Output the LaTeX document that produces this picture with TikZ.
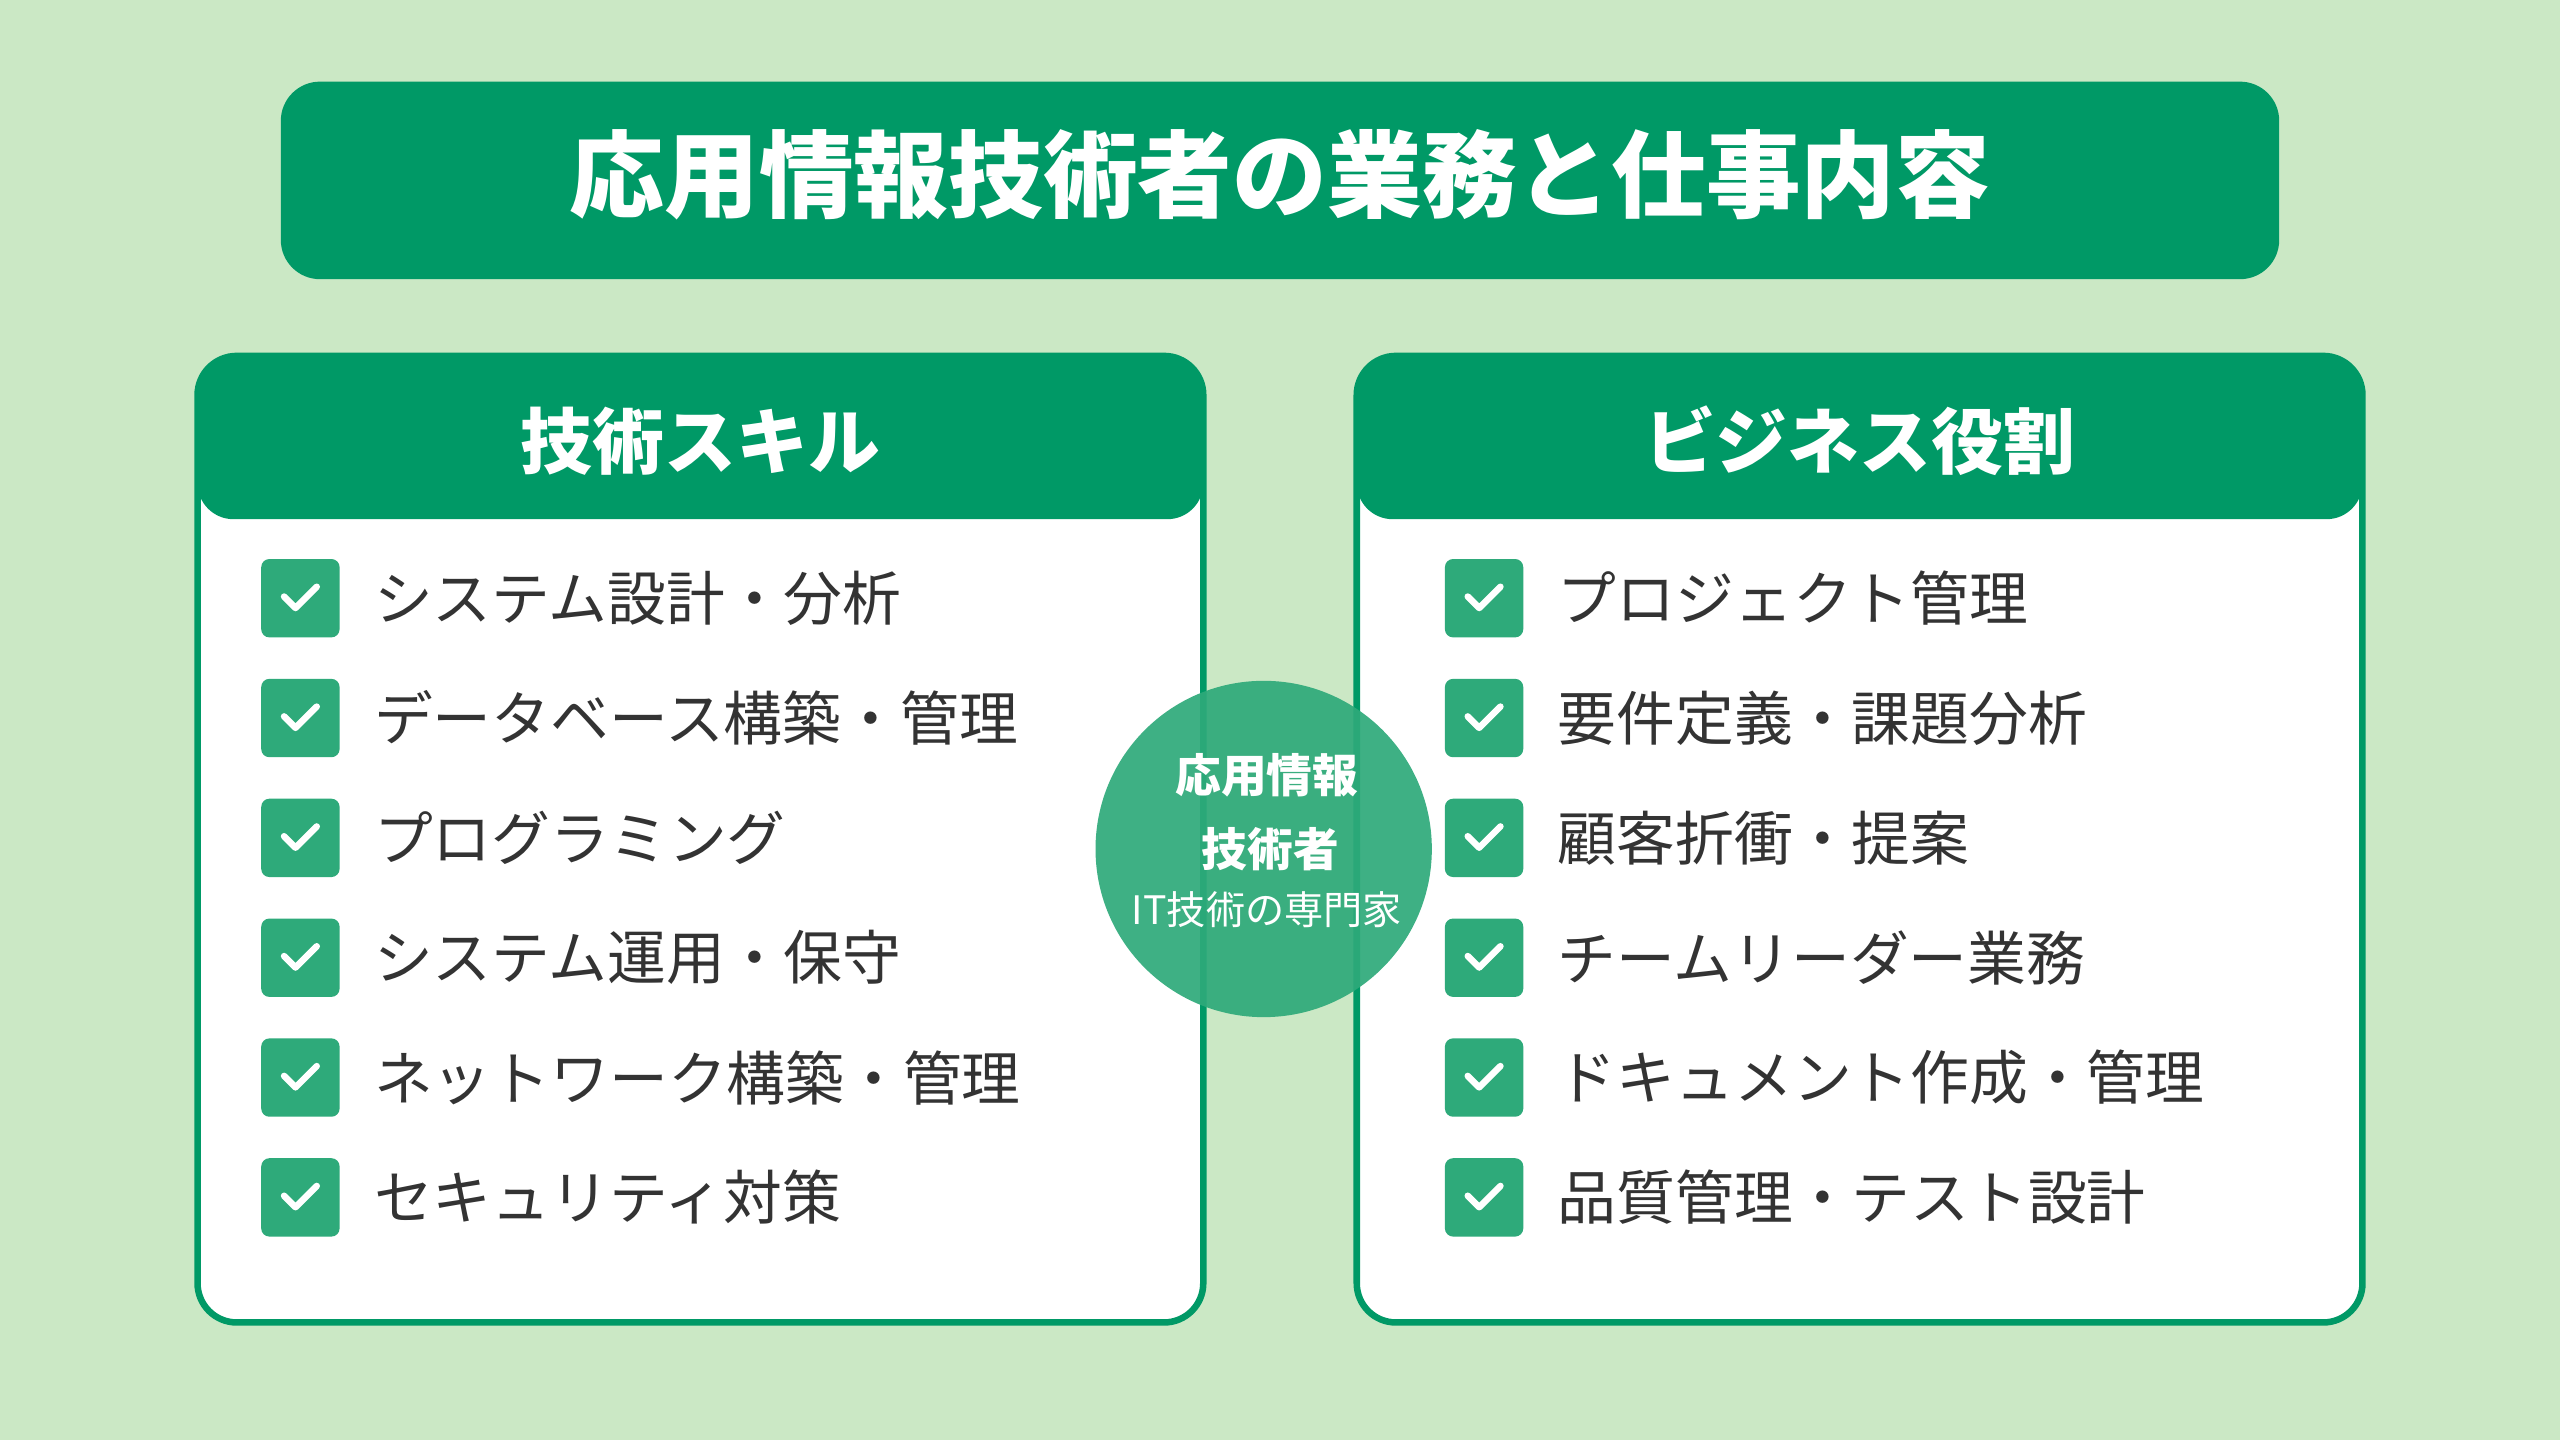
\documentclass[tikz,border=0pt]{standalone}
\usepackage{fontspec}
\setmainfont{Noto Sans CJK JP}
\usetikzlibrary{positioning}
\definecolor{bgGreen}{HTML}{CBE8C5}
\definecolor{mainGreen}{HTML}{009966}
\definecolor{checkGreen}{HTML}{2EAA7A}
\definecolor{textGray}{HTML}{333333}
\tikzset{
  checkbox/.style={fill=checkGreen, rounded corners=5pt, minimum size=48pt, inner sep=0pt},
  checkmark/.style={white, line width=4pt, line cap=round, line join=round},
  itemtext/.style={anchor=west, text=textGray, font=\fontsize{36}{42}\selectfont, inner sep=0pt},
  headtext/.style={text=white, font=\fontsize{44}{50}\selectfont\bfseries},
}
\begin{document}
\begin{tikzpicture}[x=1pt,y=-1pt]
  \fill [bgGreen] (0,0) rectangle (1568,882);
  \useasboundingbox (0,0) rectangle (1568,882);

  % title
  \fill [mainGreen, rounded corners=24pt] (172,50) rectangle (1396,171);
  \node (title) [text=white, font=\fontsize{58}{66}\selectfont\bfseries] at (784,107) {応用情報技術者の業務と仕事内容};

  % panels
  \draw [line width=4pt, color=mainGreen, fill=white, rounded corners=24pt] (121,218) rectangle (737,810);
  \fill [mainGreen, rounded corners=22pt] (121,218) rectangle (737,318);
  \node (leftHead) [headtext] at (429,270) {技術スキル};

  \draw [line width=4pt, color=mainGreen, fill=white, rounded corners=24pt] (831,218) rectangle (1447,810);
  \fill [mainGreen, rounded corners=22pt] (831,218) rectangle (1447,318);
  \node (rightHead) [headtext] at (1139,270) {ビジネス役割};

  % items
  \foreach \txt [count=\i] in {システム設計・分析, データベース構築・管理, プログラミング, システム運用・保守, ネットワーク構築・管理, セキュリティ対策} {
    \node (lbox\i) [checkbox] at (184,293+73.4*\i) {};
    \draw [checkmark] (lbox\i.center) ++(-10,-1) -- ++(7,7) -- ++(13,-13);
    \node (ltxt\i) [itemtext] at (229,293+73.4*\i) {\txt};
  }
  \foreach \txt [count=\i] in {プロジェクト管理, 要件定義・課題分析, 顧客折衝・提案, チームリーダー業務, ドキュメント作成・管理, 品質管理・テスト設計} {
    \node (rbox\i) [checkbox] at (909,293+73.4*\i) {};
    \draw [checkmark] (rbox\i.center) ++(-10,-1) -- ++(7,7) -- ++(13,-13);
    \node (rtxt\i) [itemtext] at (954,293+73.4*\i) {\txt};
  }

  % centre circle
  \fill [checkGreen, fill opacity=0.92] (774,520) circle (103);
  \node (c1) [text=white, font=\fontsize{28}{30}\selectfont\bfseries] at (776,475) {応用情報};
  \node (c2) [text=white, font=\fontsize{28}{30}\selectfont\bfseries] at (778,520) {技術者};
  \node (c3) [text=white, font=\fontsize{24}{26}\selectfont] at (776,557) {IT技術の専門家};
\end{tikzpicture}
\end{document}
